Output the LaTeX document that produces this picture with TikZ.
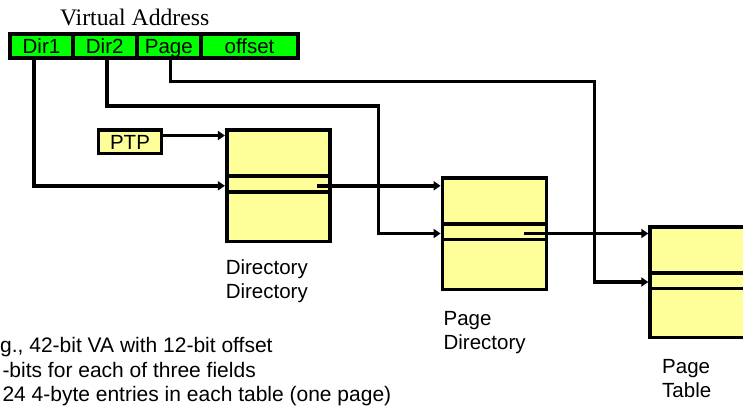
\documentclass[tikz,border=0pt]{standalone}
\usepackage{fontspec}
\newfontfamily\lsans[Ligatures=NoCommon]{Liberation Sans}
\newfontfamily\lserif{Liberation Serif}
\usetikzlibrary{arrows.meta,calc}
\definecolor{vagreen}{RGB}{0,255,0}
\definecolor{tblyellow}{RGB}{255,255,153}
\begin{document}
\begin{tikzpicture}[x=1pt,y=-1pt,
  line join=miter,
  field/.style={draw=black, line width=3.6pt, fill=vagreen, inner sep=0pt,
    minimum height=24.3pt, text height=15pt, text depth=0pt,
    font=\lsans\fontsize{20.5pt}{24pt}\selectfont},
  tbl/.style={draw=black, line width=3.6pt, fill=tblyellow, inner sep=0pt},
  lbl/.style={anchor=base west, inner sep=0pt, font=\lsans\fontsize{20.5pt}{24pt}\selectfont},
  note/.style={anchor=base west, inner sep=0pt, font=\lsans\fontsize{21pt}{25pt}\selectfont},
  conn/.style={line width=3.6pt},
  arr/.style={conn, -{Triangle[length=7pt,width=9pt]}}
]
\useasboundingbox (0,0) rectangle (743,406);

% title
\node[anchor=base, inner sep=0pt, font=\lserif\fontsize{23.7pt}{28pt}\selectfont] (va) at (134.7,26) {Virtual Address};

% virtual address fields
\node[field, minimum width=62.7pt] (f1) at (41.45,46.15) {Dir1};
\node[field, minimum width=64pt]   (f2) at (104.7,46.15) {Dir2};
\node[field, minimum width=64.3pt] (f3) at (168.85,46.15) {Page};
\node[field, minimum width=97.1pt] (f4) at (249.55,46.15) {offset};

% PTP
\node[tbl, minimum width=63.2pt, minimum height=23.3pt, text height=15pt, text depth=0pt,
  font=\lsans\fontsize{20.5pt}{24pt}\selectfont] (ptp) at (130,141.7) {PTP};

% tables
\node[tbl, minimum width=103.3pt, minimum height=111.6pt] (b1) at (278.35,185.8) {};
\node[tbl, minimum width=104.2pt, minimum height=111.6pt] (b2) at (494.5,233.5) {};
\node[tbl, minimum width=104.2pt, minimum height=110.6pt] (b3) at (702.2,282) {};

\foreach \b in {b1,b2,b3}{
  \draw[conn] ([yshift=-48pt]\b.north west) -- ([yshift=-48pt]\b.north east);
  \draw[conn] ([yshift=-63.6pt]\b.north west) -- ([yshift=-63.6pt]\b.north east);
}

% labels
\node[lbl] (l1a) at (225.6,274) {Directory};
\node[lbl] (l1b) at (225.6,298.5) {Directory};
\node[lbl] (l2a) at (443.4,325) {Page};
\node[lbl] (l2b) at (443.4,349.5) {Directory};
\node[lbl] (l3a) at (662,373.5) {Page};
\node[lbl] (l3b) at (662,397) {Table};

% notes
\node[note] (n1) at (0,352.5) {g., 42-bit VA with 12-bit offset};
\node[note] (n2) at (2.3,377) {-bits for each of three fields};
\node[note] (n3) at (2.3,401.5) {24 4-byte entries in each table (one page)};

% connectors
\coordinate (s1) at ([xshift=-7.7pt]f1.south);
\coordinate (s2) at ([xshift=2pt]f2.south);
\coordinate (s3) at ([xshift=1.7pt]f3.south);
\coordinate (d2) at (378.5,106);
\coordinate (d3) at (594.5,81.7);
\coordinate (p1) at ([yshift=-7.3pt]b1.north west);

\draw[arr] (s1) |- (b1.west);
\draw[arr] (s2) |- (d2) |- (b2.west);
\draw[arr] (s3) |- (d3) |- (b3.west);
\draw[arr] (ptp.east |- p1) -- (p1);
\draw[arr] ([xshift=-15pt]b1.east) -- (b1.east -| b2.west);
\draw[arr] ([xshift=-24pt]b2.east) -- (b2.east -| b3.west);
\end{tikzpicture}
\end{document}
